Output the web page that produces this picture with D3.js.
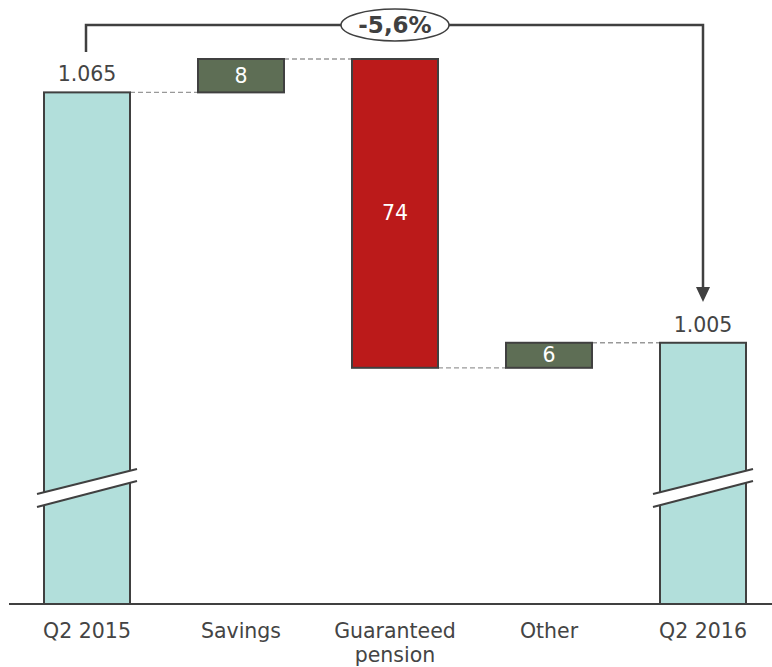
<!DOCTYPE html>
<html>
<head>
<meta charset="utf-8">
<script src="https://cdn.jsdelivr.net/npm/d3@7"></script>
<style>
  body { margin: 0; background: #fff; }
  svg { display: block; font-family: "DejaVu Sans", Verdana, sans-serif; }
</style>
</head>
<body>
<svg width="772" height="667"></svg>
<script>
const categories = ["Q2 2015", "Savings", "Guaranteed\npension", "Other", "Q2 2016"];
const values = [1065, 8, -74, 6, 1005];
const kinds = ["total", "delta", "delta", "delta", "total"];
const valueLabels = ["1.065", "8", "74", "6", "1.005"];
const changeLabel = "-5,6%";

const svg = d3.select("svg");
const ink = "#404040";

const x = d3.scalePoint().domain(categories).range([10, 780]).padding(0.5);
const y = d3.scaleLinear().domain([942.4, 1073]).range([604, 59]);
const barW = 86;

// build waterfall steps
let running = 0;
const bars = categories.map((c, i) => {
  let lo, hi;
  if (kinds[i] === "total") {
    running = values[i];
    lo = y.domain()[0]; hi = values[i];
  } else {
    const start = running;
    running += values[i];
    lo = Math.min(start, running); hi = Math.max(start, running);
  }
  return { cat: c, kind: kinds[i], v: values[i], lo, hi, end: running, label: valueLabels[i] };
});

const fill = d => d.kind === "total" ? "#b2dfdb" : (d.v < 0 ? "#bb1a1a" : "#5e6e55");

// dashed connectors
for (let i = 0; i < bars.length - 1; i++) {
  const yy = y(bars[i].end);
  svg.append("line")
    .attr("x1", x(bars[i].cat) + barW / 2).attr("x2", x(bars[i + 1].cat) - barW / 2)
    .attr("y1", yy).attr("y2", yy)
    .attr("stroke", "#999").attr("stroke-width", 1.3)
    .attr("stroke-dasharray", "5,3");
}

svg.selectAll(".bar")
  .data(bars)
  .enter().append("rect")
  .attr("class", "bar")
  .attr("x", d => x(d.cat) - barW / 2)
  .attr("y", d => y(d.hi))
  .attr("width", barW)
  .attr("height", d => y(d.lo) - y(d.hi))
  .attr("fill", fill)
  .attr("stroke", ink)
  .attr("stroke-width", 2);

// axis break marks on the total bars
bars.filter(d => d.kind === "total").forEach(d => {
  const cx = x(d.cat);
  const x1 = cx - 50, x2 = cx + 50;
  svg.append("polygon")
    .attr("points", `${x1},494 ${x2},469 ${x2},481 ${x1},507`)
    .attr("fill", "#fff");
  [[494, 469], [507, 481]].forEach(p => {
    svg.append("line")
      .attr("x1", x1).attr("y1", p[0]).attr("x2", x2).attr("y2", p[1])
      .attr("stroke", ink).attr("stroke-width", 2);
  });
});

// baseline
svg.append("line")
  .attr("x1", 9).attr("x2", 772)
  .attr("y1", y.range()[0]).attr("y2", y.range()[0])
  .attr("stroke", ink).attr("stroke-width", 2);

// category labels
svg.selectAll(".cat")
  .data(categories)
  .enter().append("text")
  .attr("class", "cat")
  .attr("x", d => x(d))
  .attr("y", 638)
  .attr("text-anchor", "middle")
  .attr("font-size", 20.5)
  .attr("fill", "#444")
  .each(function(d) {
    d.split("\n").forEach((line, k) => {
      d3.select(this).append("tspan")
        .attr("x", x(d)).attr("dy", k === 0 ? 0 : 24).text(line);
    });
  });

// value labels
svg.selectAll(".val")
  .data(bars)
  .enter().append("text")
  .attr("class", "val")
  .attr("x", d => x(d.cat))
  .attr("y", d => d.kind === "total" ? y(d.hi) - 11 : (y(d.hi) + y(d.lo)) / 2 + 7)
  .attr("text-anchor", "middle")
  .attr("font-size", 20.5)
  .attr("fill", d => d.kind === "total" ? "#444" : "#fff")
  .text(d => d.label);

// change bracket
const first = bars[0], last = bars[bars.length - 1];
const topY = 25;
const ax = x(first.cat) - 1, bx = x(last.cat);
svg.append("path")
  .attr("d", `M${ax},52 V${topY} H${bx} V288`)
  .attr("fill", "none").attr("stroke", ink).attr("stroke-width", 2.5);
svg.append("path")
  .attr("d", `M${bx - 7},287 L${bx + 7},287 L${bx},302 Z`)
  .attr("fill", ink);

const mid = (x(categories[2]));
svg.append("ellipse")
  .attr("cx", mid).attr("cy", topY).attr("rx", 54).attr("ry", 16)
  .attr("fill", "#fff").attr("stroke", ink).attr("stroke-width", 1.5);
svg.append("text")
  .attr("x", mid).attr("y", topY + 8)
  .attr("text-anchor", "middle")
  .attr("font-size", 23).attr("font-weight", "bold")
  .attr("fill", ink)
  .text(changeLabel);
</script>
</body>
</html>
